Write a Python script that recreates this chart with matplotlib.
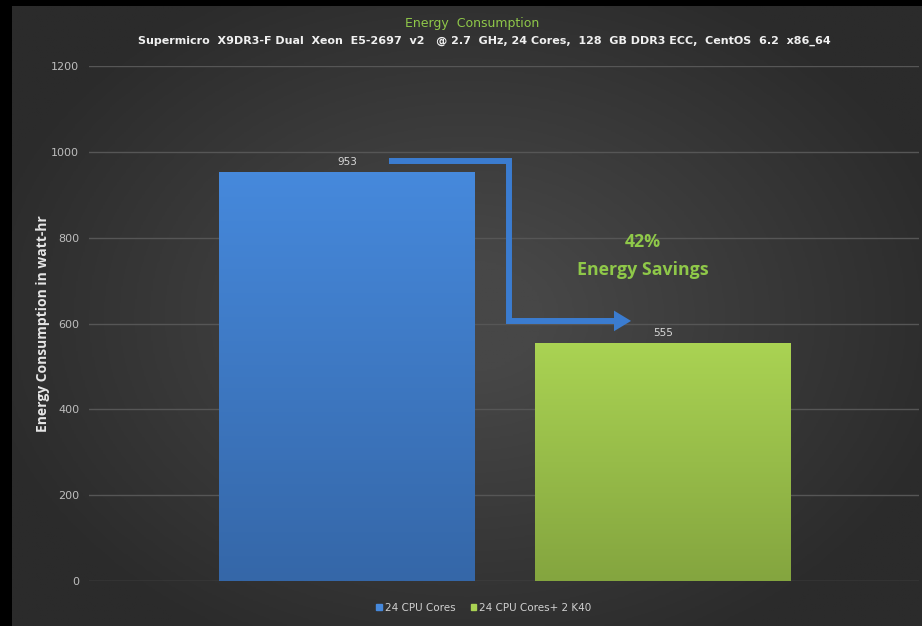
import numpy as np
import matplotlib.pyplot as plt
from matplotlib.patches import Rectangle, Polygon

# chart data
categories = ['24 CPU Cores', '24 CPU Cores+ 2 K40']
energy = [953, 555]
savings_pct = 42
yticks = [0, 200, 400, 600, 800, 1000, 1200]

bar_top = ['#4689dc', '#aad353']
bar_bottom = ['#3567a8', '#84a53f']
green_txt = '#8fc849'
tick_col = '#bdbdbd'
arrow_col = '#3b7cd0'

fig = plt.figure(figsize=(9.22, 6.26), dpi=100)
fig.patch.set_facecolor('black')

# dark panel with a soft radial glow
bg = fig.add_axes([12 / 922, 0, 910 / 922, 620 / 626])
yy, xx = np.mgrid[-1:1:300j, -1:1:400j]
r = np.sqrt((xx / 1.1) ** 2 + (yy / 1.2) ** 2)
glow = np.clip(1 - r, 0, 1)
bg.imshow(glow, cmap=plt.matplotlib.colors.LinearSegmentedColormap.from_list(
    'p', ['#2b2b2b', '#474747']), aspect='auto', extent=[0, 1, 0, 1],
    vmin=0, vmax=0.85)
bg.axis('off')

ax = fig.add_axes([89 / 922, 45 / 626, 830 / 922, 515 / 626])
ax.patch.set_alpha(0)
x = np.arange(len(categories))
bars = ax.bar(x, energy, width=0.807, color=bar_top, zorder=2)

# vertical gradient fill for each bar
grad = np.linspace(0, 1, 256).reshape(-1, 1)
for b, c0, c1 in zip(bars, bar_bottom, bar_top):
    cm = plt.matplotlib.colors.LinearSegmentedColormap.from_list('g', [c0, c1])
    x0, w, h = b.get_x(), b.get_width(), b.get_height()
    im = ax.imshow(grad, cmap=cm, aspect='auto', origin='lower',
                   extent=[x0, x0 + w, 0, h], zorder=3)
    im.set_clip_path(b)
    ax.add_patch(Rectangle((x0, h - 6), w, 6, color=c1, zorder=4, lw=0))
    ax.text(x0 + w / 2, h + 12, f'{h:.0f}',
            ha='center', va='bottom', color='#d8d8d8', fontsize=7.5, zorder=5)

ax.set_xlim(-0.816, 1.81)
ax.set_ylim(0, 1200)
ax.set_yticks(yticks)
ax.set_xticks([])
ax.grid(axis='y', color='#565656', lw=1, zorder=1)
ax.tick_params(axis='y', length=0, colors=tick_col, labelsize=8, pad=7)
for s in ax.spines.values():
    s.set_visible(False)
ax.set_ylabel('Energy Consumption in watt-hr', color='#e6e6e6', fontsize=10,
              fontweight='bold', family='Open Sans', labelpad=1)

# step arrow from the CPU bar down to the GPU bar
path_x = [0.133, 0.513, 0.513, 0.85]
path_y = [978, 978, 606, 606]
ax.plot(path_x, path_y, color=arrow_col, lw=4.3,
        solid_joinstyle='miter', solid_capstyle='butt', zorder=5)
ax.add_patch(Polygon([(0.845, 606 + 24), (0.899, 606), (0.845, 606 - 24)],
                     closed=True, color=arrow_col, lw=0, zorder=5))

ax.text(0.935, 790, f'{savings_pct}%', ha='center', va='center',
        color=green_txt, fontsize=12.8, fontweight='bold', family='Open Sans')
ax.text(0.935, 725, 'Energy Savings', ha='center', va='center',
        color=green_txt, fontsize=12.8, fontweight='bold', family='Open Sans')

fig.text(472 / 922, 1 - 24 / 626, 'Energy  Consumption', ha='center',
         va='center', color=green_txt, fontsize=9, family='DejaVu Sans Condensed')
fig.text(484 / 922, 1 - 41 / 626,
         'Supermicro  X9DR3-F Dual  Xeon  E5-2697  v2   @ 2.7  GHz, 24 Cores,  128  GB DDR3 ECC,  CentOS  6.2  x86_64',
         ha='center', va='center', color='#f0f0f0', fontsize=8,
         fontweight='bold', family='DejaVu Sans Condensed')

# legend
handles = [Rectangle((0, 0), 1, 1, color=c) for c in bar_top]
leg = fig.legend(handles, categories, loc='center', bbox_to_anchor=(484 / 922, 18 / 626),
                 ncol=2, frameon=False, fontsize=7.5, handlelength=0.5,
                 handleheight=0.5, handletextpad=0.3, columnspacing=1.5)
for t in leg.get_texts():
    t.set_color('#d0d0d0')

fig.savefig('out.png', dpi=100, facecolor=fig.get_facecolor())
